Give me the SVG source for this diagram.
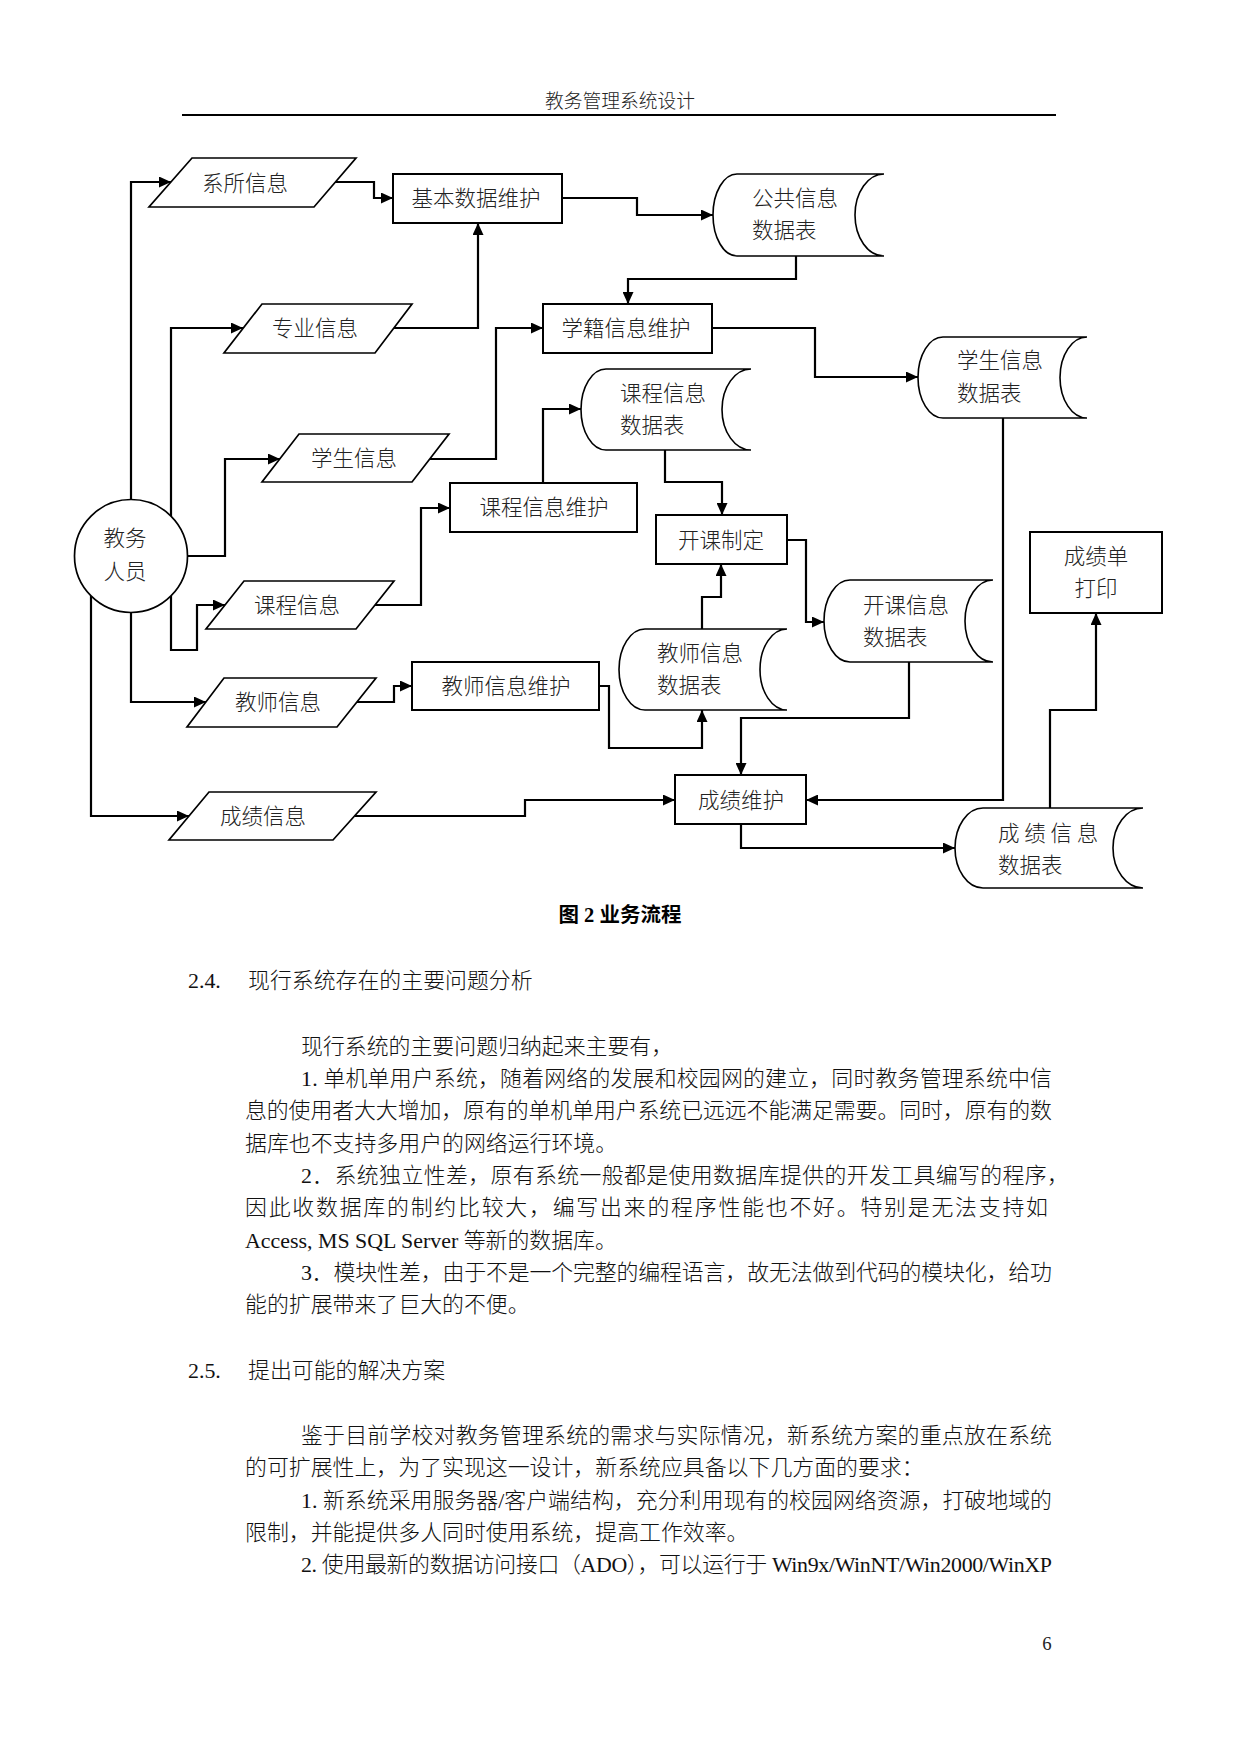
<svg xmlns="http://www.w3.org/2000/svg" width="1241" height="1754" viewBox="0 0 1241 1754">
<defs>
<marker id="ah" markerUnits="userSpaceOnUse" markerWidth="12" markerHeight="11" refX="12" refY="5.5" orient="auto">
<path d="M0,0 L12,5.5 L0,11 Z" fill="#000"/>
</marker>
<style>
.box{fill:#fff;stroke:#000;stroke-width:2}
.io{fill:#fff;stroke:#000;stroke-width:1.7}
.st{fill:#fff;stroke:#000;stroke-width:1.6}
.conn path{fill:none;stroke:#000;stroke-width:2.2;marker-end:url(#ah)}
.lbl{font-family:"Noto Sans CJK SC","Liberation Sans",sans-serif;font-size:21.5px;font-weight:300;fill:#222}
.mid{text-anchor:middle}
.body{font-family:"Liberation Serif","Noto Sans CJK SC",serif;font-size:21.9px;font-weight:300;fill:#111}
.hdr{font-family:"Liberation Serif","Noto Sans CJK SC",serif;font-size:18.75px;font-weight:300;fill:#222}
.cap{font-family:"Liberation Serif","Noto Sans CJK SC",serif;font-size:20.5px;font-weight:bold;fill:#000}
</style>
</defs>
<rect x="0" y="0" width="1241" height="1754" fill="#fff"/>

<!-- page header -->
<text class="hdr mid" x="620" y="108">教务管理系统设计</text>
<line x1="182" y1="115" x2="1056" y2="115" stroke="#000" stroke-width="2"/>

<!-- connectors -->
<g id="connectors" class="conn">
<path d="M131,500 V182 H171"/>
<path d="M335,182 H374 V198 H393"/>
<path d="M562,198 H637 V215 H713"/>
<path d="M796,256 V279 H628 V304"/>
<path d="M171,516 V328 H243"/>
<path d="M394,328 H478 V223"/>
<path d="M187.5,556 H225 V459 H280"/>
<path d="M430,459 H496 V328 H543"/>
<path d="M712,328 H815 V377 H918"/>
<path d="M543,483 V409 H581"/>
<path d="M171,596 V650 H197 V605 H225"/>
<path d="M375,605 H421 V508 H450"/>
<path d="M665,450 V482 H722 V515"/>
<path d="M131,612.5 V702 H206"/>
<path d="M357,702 H394 V686 H412"/>
<path d="M599,686 H609 V748 H702 V710"/>
<path d="M702,629 V597 H721 V564"/>
<path d="M787,540 H806 V622 H824"/>
<path d="M909,662 V718 H741 V775"/>
<path d="M1003,418 V800 H806"/>
<path d="M91,596 V816 H189"/>
<path d="M355,816 H525 V800 H675"/>
<path d="M741,824 V848 H955"/>
<path d="M1050,808 V710 H1096 V613"/>
</g>

<!-- actor -->
<g id="jiaowu">
<circle cx="131" cy="556" r="56.5" class="io"/>
<text class="lbl mid" x="125" y="546">教务</text>
<text class="lbl mid" x="125" y="579">人员</text>
</g>

<!-- inputs (parallelograms) -->
<g id="in-xisuo">
<polygon class="io" points="192,158 356,158 314,207 149,207"/>
<text class="lbl mid" x="245" y="191">系所信息</text>
</g>
<g id="in-zhuanye">
<polygon class="io" points="262,304 412,304 375,353 224,353"/>
<text class="lbl mid" x="315" y="336">专业信息</text>
</g>
<g id="in-xuesheng">
<polygon class="io" points="299,434 449,434 412,482 262,482"/>
<text class="lbl mid" x="354" y="466">学生信息</text>
</g>
<g id="in-kecheng">
<polygon class="io" points="244,581 394,581 356,629 206,629"/>
<text class="lbl mid" x="297" y="613">课程信息</text>
</g>
<g id="in-jiaoshi">
<polygon class="io" points="224,678 376,678 337,727 187,727"/>
<text class="lbl mid" x="278" y="710">教师信息</text>
</g>
<g id="in-chengji">
<polygon class="io" points="209,792 376,792 333,840 169,840"/>
<text class="lbl mid" x="263" y="824">成绩信息</text>
</g>

<!-- processes -->
<g id="p-jiben">
<rect class="box" x="393" y="174" width="169" height="49"/>
<text class="lbl mid" x="476" y="206">基本数据维护</text>
</g>
<g id="p-xueji">
<rect class="box" x="543" y="304" width="169" height="49"/>
<text class="lbl mid" x="626" y="336">学籍信息维护</text>
</g>
<g id="p-kecheng">
<rect class="box" x="450" y="483" width="187" height="49"/>
<text class="lbl mid" x="544" y="515">课程信息维护</text>
</g>
<g id="p-kaike">
<rect class="box" x="656" y="515" width="131" height="49"/>
<text class="lbl mid" x="721" y="548">开课制定</text>
</g>
<g id="p-jiaoshi">
<rect class="box" x="412" y="662" width="187" height="48"/>
<text class="lbl mid" x="506" y="694">教师信息维护</text>
</g>
<g id="p-chengji">
<rect class="box" x="675" y="775" width="131" height="49"/>
<text class="lbl mid" x="741" y="808">成绩维护</text>
</g>
<g id="p-print">
<rect class="box" x="1030" y="532" width="132" height="81"/>
<text class="lbl mid" x="1096" y="564">成绩单</text>
<text class="lbl mid" x="1096" y="596">打印</text>
</g>

<!-- data stores -->
<g id="d-gonggong">
<path class="st" d="M737,174 L884,174 A29,41 0 0 0 884,256 L737,256 A24,41 0 0 1 737,174 Z"/>
<text class="lbl" x="752" y="206">公共信息</text>
<text class="lbl" x="752" y="238">数据表</text>
</g>
<g id="d-xuesheng">
<path class="st" d="M943,337 L1087,337 A27,40.5 0 0 0 1087,418 L943,418 A25,40.5 0 0 1 943,337 Z"/>
<text class="lbl" x="957" y="368">学生信息</text>
<text class="lbl" x="957" y="401">数据表</text>
</g>
<g id="d-kecheng">
<path class="st" d="M606,369 L751,369 A29,40.5 0 0 0 751,450 L606,450 A25,40.5 0 0 1 606,369 Z"/>
<text class="lbl" x="620" y="401">课程信息</text>
<text class="lbl" x="620" y="433">数据表</text>
</g>
<g id="d-jiaoshi">
<path class="st" d="M645,629 L787,629 A27,40.5 0 0 0 787,710 L645,710 A26,40.5 0 0 1 645,629 Z"/>
<text class="lbl" x="657" y="661">教师信息</text>
<text class="lbl" x="657" y="693">数据表</text>
</g>
<g id="d-kaike">
<path class="st" d="M850,580 L993,580 A28,41 0 0 0 993,662 L850,662 A26,41 0 0 1 850,580 Z"/>
<text class="lbl" x="863" y="613">开课信息</text>
<text class="lbl" x="863" y="645">数据表</text>
</g>
<g id="d-chengji">
<path class="st" d="M983,808 L1143,808 A30,40 0 0 0 1143,888 L983,888 A28,40 0 0 1 983,808 Z"/>
<text class="lbl" x="998" y="841">成 绩 信 息</text>
<text class="lbl" x="998" y="873">数据表</text>
</g>

<!-- caption -->
<text class="cap mid" x="620" y="922">图 2 业务流程</text>

<!-- section 2.4 -->
<text class="body" x="188" y="988">2.4.</text>
<text class="body" x="248" y="988">现行系统存在的主要问题分析</text>
<text class="body" x="301" y="1054">现行系统的主要问题归纳起来主要有，</text>
<text class="body" x="301" y="1086" textLength="751" lengthAdjust="spacing">1. 单机单用户系统，随着网络的发展和校园网的建立，同时教务管理系统中信</text>
<text class="body" x="245" y="1118" textLength="807" lengthAdjust="spacing">息的使用者大大增加，原有的单机单用户系统已远远不能满足需要。同时，原有的数</text>
<text class="body" x="245" y="1151">据库也不支持多用户的网络运行环境。</text>
<text class="body" x="301" y="1183" textLength="768" lengthAdjust="spacing">2．系统独立性差，原有系统一般都是使用数据库提供的开发工具编写的程序，</text>
<text class="body" x="245" y="1215" textLength="803" lengthAdjust="spacing">因此收数据库的制约比较大，编写出来的程序性能也不好。特别是无法支持如</text>
<text class="body" x="245" y="1248">Access, MS SQL Server 等新的数据库。</text>
<text class="body" x="301" y="1280" textLength="751" lengthAdjust="spacing">3．模块性差，由于不是一个完整的编程语言，故无法做到代码的模块化，给功</text>
<text class="body" x="245" y="1312">能的扩展带来了巨大的不便。</text>

<!-- section 2.5 -->
<text class="body" x="188" y="1378">2.5.</text>
<text class="body" x="248" y="1378">提出可能的解决方案</text>
<text class="body" x="301" y="1443" textLength="751" lengthAdjust="spacing">鉴于目前学校对教务管理系统的需求与实际情况，新系统方案的重点放在系统</text>
<text class="body" x="245" y="1475">的可扩展性上，为了实现这一设计，新系统应具备以下几方面的要求：</text>
<text class="body" x="301" y="1508" textLength="751" lengthAdjust="spacing">1. 新系统采用服务器/客户端结构，充分利用现有的校园网络资源，打破地域的</text>
<text class="body" x="245" y="1540">限制，并能提供多人同时使用系统，提高工作效率。</text>
<text class="body" x="301" y="1572" textLength="751" lengthAdjust="spacing">2. 使用最新的数据访问接口（ADO），可以运行于 Win9x/WinNT/Win2000/WinXP</text>

<!-- page number -->
<text class="hdr mid" x="1047" y="1650">6</text>
</svg>
